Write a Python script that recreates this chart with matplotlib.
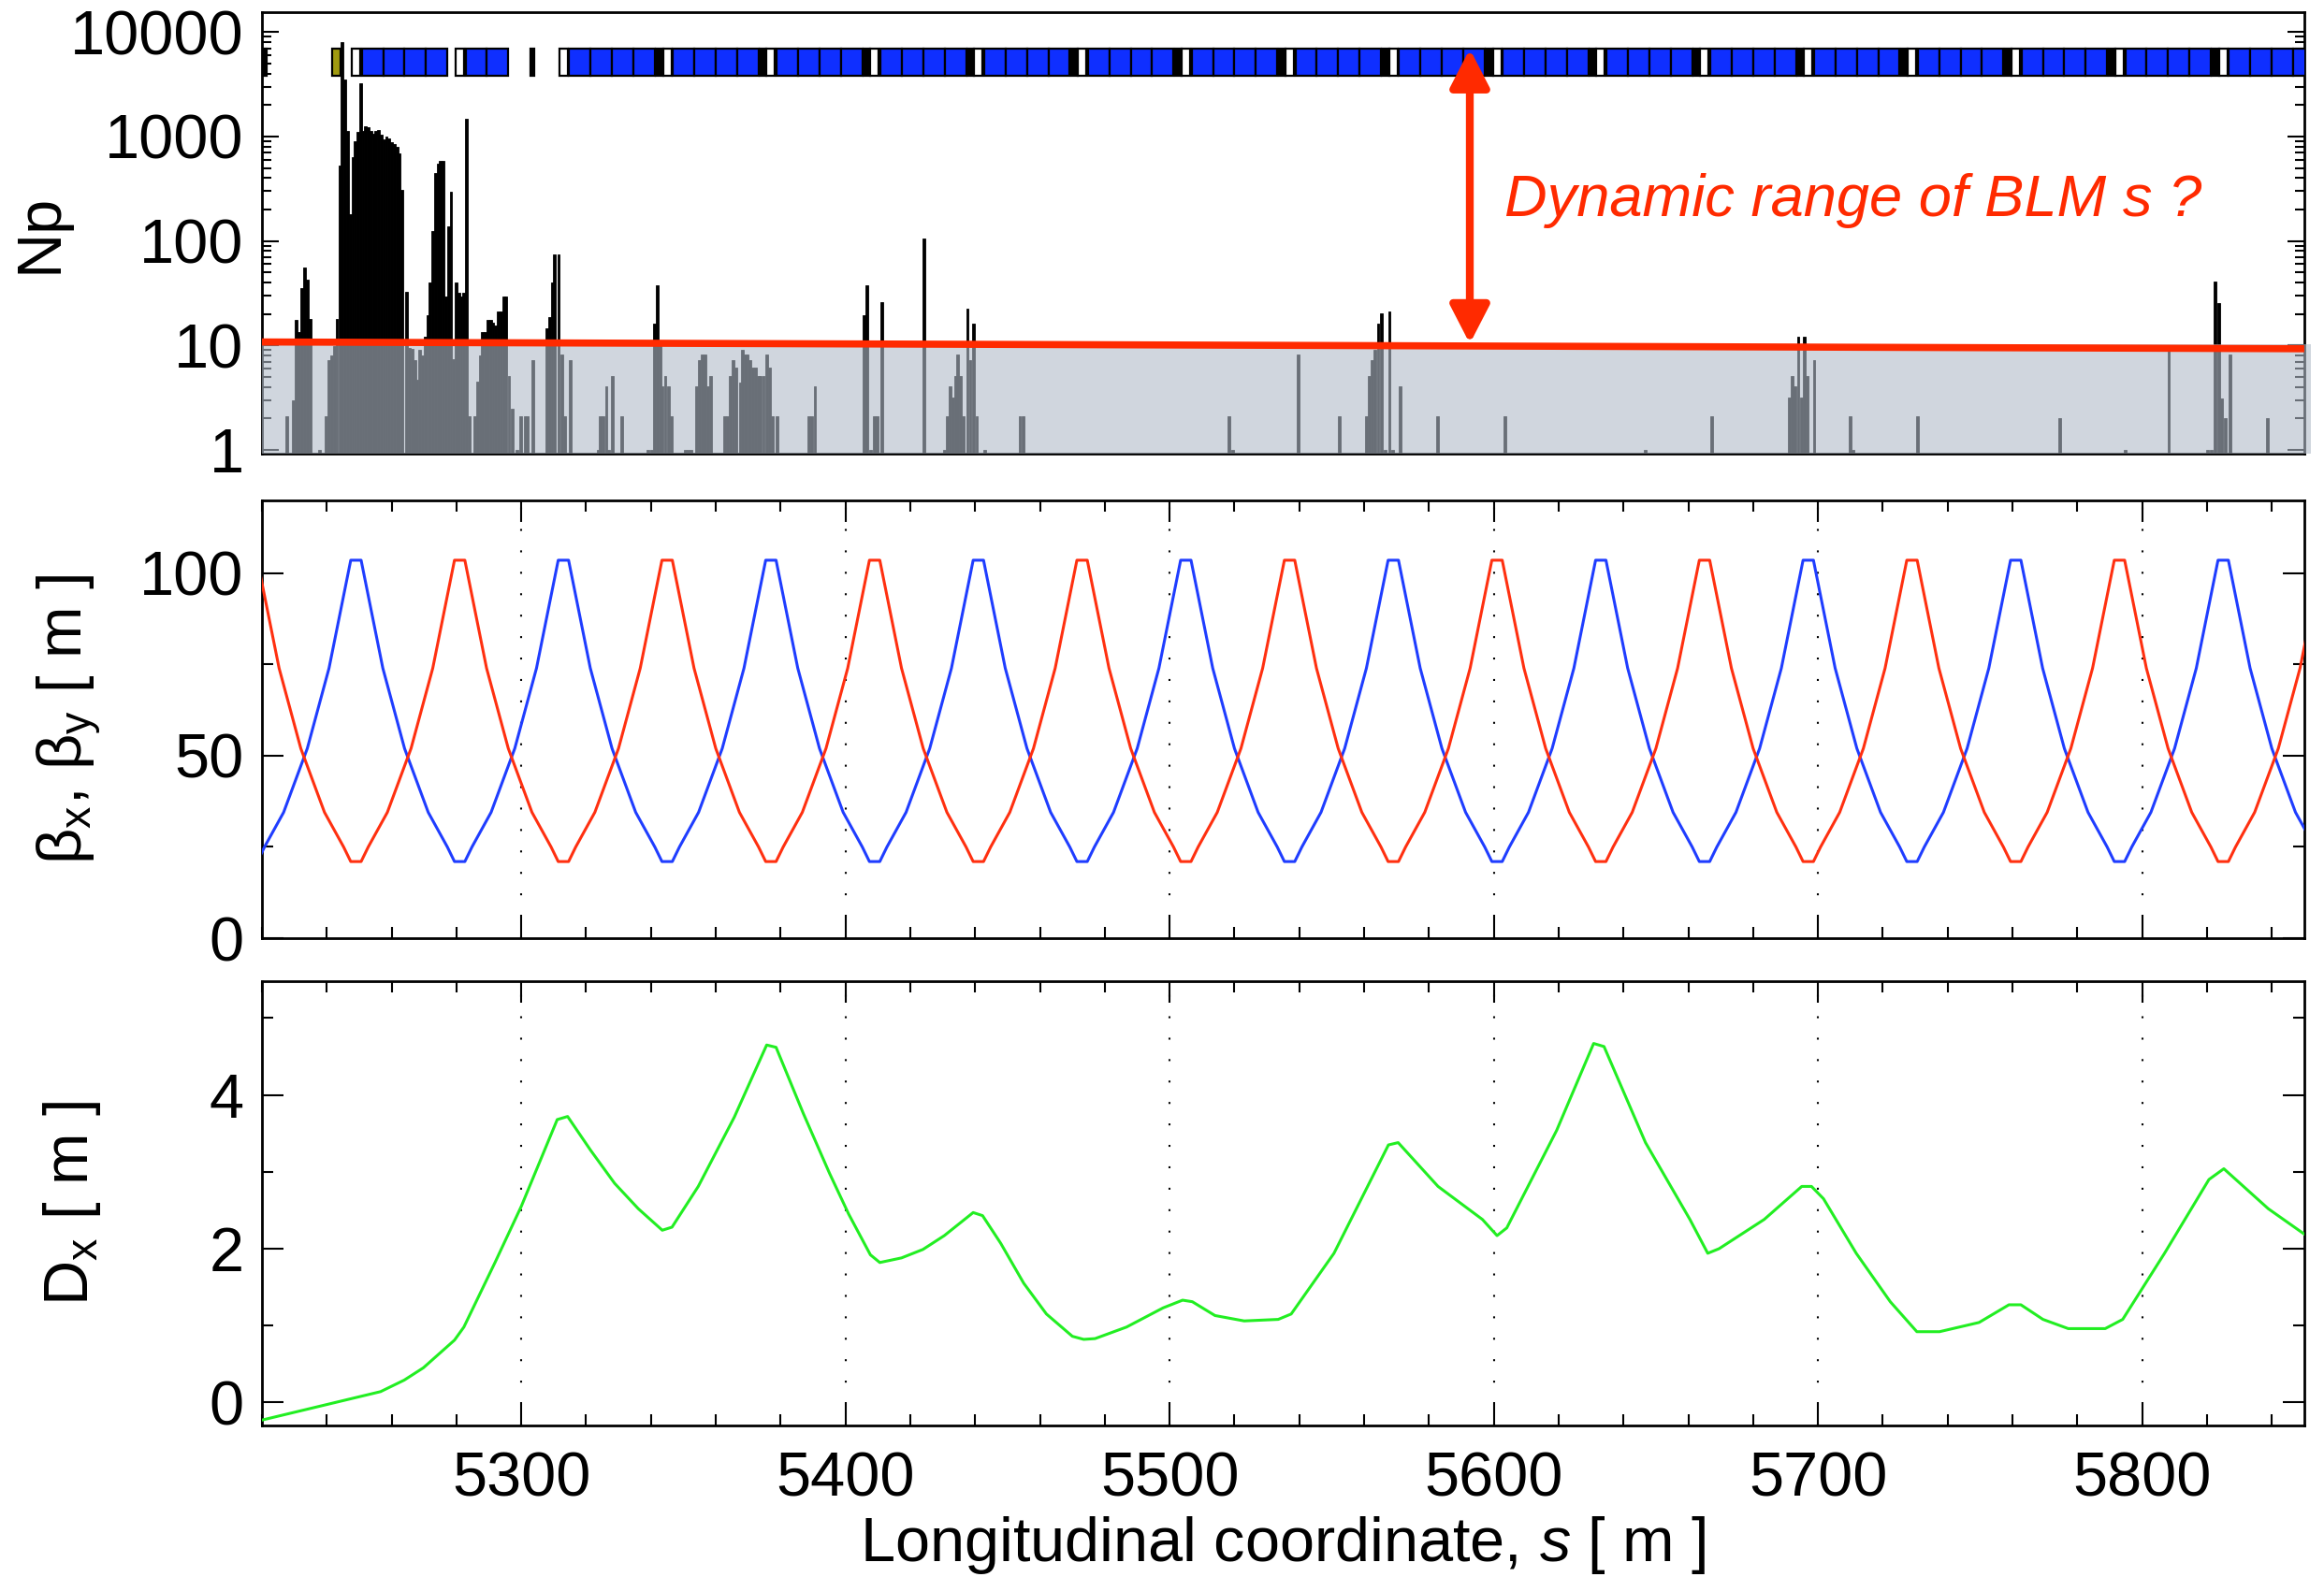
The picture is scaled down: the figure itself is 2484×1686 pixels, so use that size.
import matplotlib
matplotlib.use('Agg')
import matplotlib.pyplot as plt
from matplotlib.patches import Rectangle, ArrowStyle
from matplotlib.ticker import FixedLocator, FixedFormatter, MultipleLocator, LogLocator, NullFormatter

plt.rcParams['font.family'] = ['Liberation Sans', 'DejaVu Sans']
plt.rcParams['mathtext.fontset'] = 'custom'
plt.rcParams['mathtext.rm'] = 'Liberation Sans'
plt.rcParams['mathtext.it'] = 'Liberation Sans:italic'
plt.rcParams['mathtext.default'] = 'regular'

# ---------------- data ----------------
# BLM losses (number of protons per bin), bin centre in s [m]
blm_s = [
    5227.6, 5229.7, 5230.6, 5231.4, 5232.3, 5233.1, 5233.9, 5234.8, 5237.8,
    5239.9, 5240.7, 5241.5, 5242.3, 5243.1, 5244.0, 5244.8, 5245.6, 5246.4, 5247.2,
    5248.0, 5248.8, 5249.6, 5250.4, 5251.2, 5252.0, 5252.8, 5253.6, 5254.4, 5255.2,
    5256.0, 5256.8, 5257.6, 5258.4, 5259.2, 5260.0, 5260.8, 5261.6, 5262.4, 5263.2, 5264.6,
    5265.5, 5266.3, 5267.1, 5267.9, 5268.7, 5269.5, 5270.3, 5271.1, 5271.9, 5272.7,
    5273.5, 5274.3, 5275.1, 5275.9, 5276.7, 5277.5, 5278.3, 5279.1, 5279.9, 5280.7,
    5281.5, 5282.3, 5283.1, 5283.9,
    5285.6, 5286.5, 5287.3, 5288.1, 5288.9, 5289.7, 5290.5, 5291.3, 5292.1, 5292.9,
    5293.7, 5294.5, 5295.3, 5296.2, 5297.1, 5298.6, 5299.8, 5301.1, 5301.9, 5303.5,
    5307.9, 5308.7, 5309.5, 5310.3, 5311.5, 5312.4, 5313.3, 5315.0,
    5323.7, 5324.4, 5325.1, 5326.2, 5326.9, 5328.2, 5330.9,
    5339.1, 5340.3, 5341.1, 5342.0, 5342.8, 5343.5, 5344.4, 5345.3, 5346.2,
    5350.5, 5351.4, 5352.3,
    5354.0, 5354.9, 5355.8, 5356.7, 5357.6, 5358.5,
    5362.7, 5363.5, 5364.4, 5365.3, 5366.2, 5367.5, 5368.2, 5369.0, 5369.8, 5370.6,
    5371.4, 5372.2, 5373.0, 5373.8, 5374.7, 5375.6, 5376.5, 5377.4, 5379.0,
    5388.6, 5389.5, 5390.6,
    5405.8, 5406.7, 5407.7, 5408.8, 5409.7, 5411.2,
    5424.3,
    5430.6, 5431.4, 5432.3, 5433.1, 5433.9, 5434.7, 5435.5, 5436.3, 5437.6, 5438.5,
    5439.4, 5440.5, 5443.0,
    5453.8, 5454.8, 5518.4, 5519.4,
    5539.6, 5552.3, 5560.7, 5561.6, 5562.5, 5563.4, 5564.3, 5565.3, 5566.5, 5567.8,
    5568.7, 5571.0, 5582.6, 5603.5,
    5646.6, 5667.3, 5691.1, 5692.0, 5692.9, 5693.9, 5694.8, 5695.7, 5696.6, 5698.8,
    5710.0, 5710.8, 5730.7,
    5774.5, 5794.7, 5808.2, 5820.2, 5821.2, 5822.5, 5823.7, 5824.5, 5825.7, 5827.1, 5838.6,
]
blm_n = [
    2.1, 3, 17.5, 13.4, 35.6, 56, 42.5, 17.8, 1,
    2.1, 7.3, 8.1, 9.8, 17.8, 530, 8000, 3500, 1130, 182,
    630, 910, 1100, 3230, 1130, 1260, 1220, 1130, 1070, 1130,
    1150, 1050, 940, 1000, 960, 890, 850, 800, 690, 310, 32.5,
    9.5, 9.2, 7.3, 4.7, 9, 8, 12, 19.6, 40, 125,
    450, 550, 580, 580, 29.5, 138, 295, 7.4, 40, 32,
    29.5, 32, 1470, 2.1,
    2.1, 4.5, 8, 13.3, 13.3, 17.5, 17.5, 16.5, 15.6, 21,
    21, 29.5, 29.5, 5.1, 2.5, 1, 2.1, 2.1, 2.1, 7.3,
    14.5, 18.6, 40, 75, 75, 8.2, 2.1, 7.3,
    1, 2.1, 2.1, 4.1, 1, 5.1, 2.1,
    1, 1, 16.3, 37.5, 11, 4.1, 5.1, 4.1, 2.1,
    1, 1, 1,
    4.1, 7.3, 8.2, 8.2, 4.1, 5.1,
    2.1, 2.1, 5.1, 7.3, 6.2, 4.4, 9, 8.2, 8.2, 7.3,
    6.2, 6.2, 5.1, 5.1, 5.1, 8.2, 6.2, 2.1, 2.1,
    2.1, 2.1, 4.1,
    19.3, 37.7, 1, 2.1, 2.1, 25.8,
    106,
    1, 2.1, 4.1, 3.2, 5.1, 8.2, 5.1, 2.1, 22.4, 7.3,
    16.3, 2.1, 1,
    2.1, 2.1, 2.1, 1,
    8.2, 2.1, 2.1, 5.1, 7.3, 9, 16.3, 20.3, 1, 21,
    1, 4.1, 2.1, 2.1,
    1, 2.1, 3.2, 5.1, 4.1, 12, 3.2, 12, 5.1, 7.3,
    2.1, 1, 2.1,
    2.0, 1, 10, 1, 1, 41, 25.7, 3.1, 2.0, 8.2, 2.0,
]

# lattice elements for the top strip
quad_s = [5249, 5281, 5313, 5345, 5377, 5409, 5441, 5473, 5505, 5537,
          5569, 5601, 5633, 5665, 5697, 5729, 5761, 5793, 5825]
n_dipoles = [4, 2, 4, 4, 4, 4, 4, 4, 4, 4, 4, 4, 4, 4, 4, 4, 4, 4, 4]
black_elem_s = [5219.0, 5302.9]
black_elem_w = [2.5, 1.1]
olive_elem_s = 5241.7
olive_elem_w = 2.5

# beta functions (vertices)
bx_s = [5215.4,
        5218.6, 5220.8, 5226.7, 5234.0, 5240.7, 5247.4, 5250.6, 5257.3, 5264.0, 5271.3, 5277.2, 5279.4,
        5282.6, 5284.8, 5290.7, 5298.0, 5304.7, 5311.4, 5314.6, 5321.3, 5328.0, 5335.3, 5341.2, 5343.4,
        5346.6, 5348.8, 5354.7, 5362.0, 5368.7, 5375.4, 5378.6, 5385.3, 5392.0, 5399.3, 5405.2, 5407.4,
        5410.6, 5412.8, 5418.7, 5426.0, 5432.7, 5439.4, 5442.6, 5449.3, 5456.0, 5463.3, 5469.2, 5471.4,
        5474.6, 5476.8, 5482.7, 5490.0, 5496.7, 5503.4, 5506.6, 5513.3, 5520.0, 5527.3, 5533.2, 5535.4,
        5538.6, 5540.8, 5546.7, 5554.0, 5560.7, 5567.4, 5570.6, 5577.3, 5584.0, 5591.3, 5597.2, 5599.4,
        5602.6, 5604.8, 5610.7, 5618.0, 5624.7, 5631.4, 5634.6, 5641.3, 5648.0, 5655.3, 5661.2, 5663.4,
        5666.6, 5668.8, 5674.7, 5682.0, 5688.7, 5695.4, 5698.6, 5705.3, 5712.0, 5719.3, 5725.2, 5727.4,
        5730.6, 5732.8, 5738.7, 5746.0, 5752.7, 5759.4, 5762.6, 5769.3, 5776.0, 5783.3, 5789.2, 5791.4,
        5794.6, 5796.8, 5802.7, 5810.0, 5816.7, 5823.4, 5826.6, 5833.3, 5840.0, 5847.3, 5853.2, 5855.4]
bx = [21,
      21, 25, 34.5, 52, 74, 103.6, 103.6, 74, 52, 34.5, 25, 21,
      21, 25, 34.5, 52, 74, 103.6, 103.6, 74, 52, 34.5, 25, 21,
      21, 25, 34.5, 52, 74, 103.6, 103.6, 74, 52, 34.5, 25, 21,
      21, 25, 34.5, 52, 74, 103.6, 103.6, 74, 52, 34.5, 25, 21,
      21, 25, 34.5, 52, 74, 103.6, 103.6, 74, 52, 34.5, 25, 21,
      21, 25, 34.5, 52, 74, 103.6, 103.6, 74, 52, 34.5, 25, 21,
      21, 25, 34.5, 52, 74, 103.6, 103.6, 74, 52, 34.5, 25, 21,
      21, 25, 34.5, 52, 74, 103.6, 103.6, 74, 52, 34.5, 25, 21,
      21, 25, 34.5, 52, 74, 103.6, 103.6, 74, 52, 34.5, 25, 21,
      21, 25, 34.5, 52, 74, 103.6, 103.6, 74, 52, 34.5, 25, 21]
by_s = [5215.4, 5218.6, 5225.3, 5232.0, 5239.3, 5245.2, 5247.4,
        5250.6, 5252.8, 5258.7, 5266.0, 5272.7, 5279.4, 5282.6, 5289.3, 5296.0, 5303.3, 5309.2, 5311.4,
        5314.6, 5316.8, 5322.7, 5330.0, 5336.7, 5343.4, 5346.6, 5353.3, 5360.0, 5367.3, 5373.2, 5375.4,
        5378.6, 5380.8, 5386.7, 5394.0, 5400.7, 5407.4, 5410.6, 5417.3, 5424.0, 5431.3, 5437.2, 5439.4,
        5442.6, 5444.8, 5450.7, 5458.0, 5464.7, 5471.4, 5474.6, 5481.3, 5488.0, 5495.3, 5501.2, 5503.4,
        5506.6, 5508.8, 5514.7, 5522.0, 5528.7, 5535.4, 5538.6, 5545.3, 5552.0, 5559.3, 5565.2, 5567.4,
        5570.6, 5572.8, 5578.7, 5586.0, 5592.7, 5599.4, 5602.6, 5609.3, 5616.0, 5623.3, 5629.2, 5631.4,
        5634.6, 5636.8, 5642.7, 5650.0, 5656.7, 5663.4, 5666.6, 5673.3, 5680.0, 5687.3, 5693.2, 5695.4,
        5698.6, 5700.8, 5706.7, 5714.0, 5720.7, 5727.4, 5730.6, 5737.3, 5744.0, 5751.3, 5757.2, 5759.4,
        5762.6, 5764.8, 5770.7, 5778.0, 5784.7, 5791.4, 5794.6, 5801.3, 5808.0, 5815.3, 5821.2, 5823.4,
        5826.6, 5828.8, 5834.7, 5842.0, 5848.7, 5855.4]
by = [103.6, 103.6, 74, 52, 34.5, 25, 21,
      21, 25, 34.5, 52, 74, 103.6, 103.6, 74, 52, 34.5, 25, 21,
      21, 25, 34.5, 52, 74, 103.6, 103.6, 74, 52, 34.5, 25, 21,
      21, 25, 34.5, 52, 74, 103.6, 103.6, 74, 52, 34.5, 25, 21,
      21, 25, 34.5, 52, 74, 103.6, 103.6, 74, 52, 34.5, 25, 21,
      21, 25, 34.5, 52, 74, 103.6, 103.6, 74, 52, 34.5, 25, 21,
      21, 25, 34.5, 52, 74, 103.6, 103.6, 74, 52, 34.5, 25, 21,
      21, 25, 34.5, 52, 74, 103.6, 103.6, 74, 52, 34.5, 25, 21,
      21, 25, 34.5, 52, 74, 103.6, 103.6, 74, 52, 34.5, 25, 21,
      21, 25, 34.5, 52, 74, 103.6, 103.6, 74, 52, 34.5, 25, 21,
      21, 25, 34.5, 52, 74, 103.6]

# horizontal dispersion
dx_s = [5220.0, 5256.6, 5263.9, 5269.8, 5279.4, 5282.3, 5291.9, 5300.0, 5311.1, 5314.3,
        5321.4, 5328.8, 5336.1, 5343.5, 5346.5, 5354.6, 5365.7, 5375.7, 5378.6, 5387.0,
        5395.1, 5401.0, 5407.7, 5410.6, 5417.3, 5423.9, 5430.5, 5439.4, 5442.3, 5447.9,
        5455.0, 5462.0, 5470.0, 5473.5, 5477.0, 5486.7, 5498.0, 5504.0, 5507.0, 5514.0,
        5523.0, 5533.5, 5537.5, 5550.7, 5567.5, 5570.5, 5582.8, 5596.5, 5601.0, 5604.0,
        5619.4, 5630.8, 5634.0, 5646.8, 5660.5, 5666.0, 5669.5, 5683.4, 5695.0, 5698.0,
        5701.7, 5711.8, 5722.3, 5730.5, 5737.5, 5749.7, 5758.9, 5762.6, 5769.4, 5777.2,
        5788.6, 5794.0, 5806.9, 5820.6, 5825.2, 5838.9, 5850.0]
dx = [-0.23, 0.14, 0.29, 0.45, 0.81, 0.98, 1.82, 2.55, 3.68, 3.72,
      3.28, 2.85, 2.52, 2.24, 2.28, 2.81, 3.71, 4.65, 4.62, 3.76,
      2.98, 2.45, 1.92, 1.82, 1.88, 1.99, 2.17, 2.47, 2.43, 2.07,
      1.55, 1.15, 0.86, 0.82, 0.83, 0.98, 1.23, 1.33, 1.31, 1.13,
      1.06, 1.08, 1.15, 1.94, 3.35, 3.38, 2.81, 2.38, 2.17, 2.27,
      3.54, 4.67, 4.63, 3.38, 2.38, 1.94, 2.0, 2.38, 2.81, 2.81,
      2.65, 1.94, 1.31, 0.92, 0.92, 1.04, 1.27, 1.27, 1.08, 0.96,
      0.96, 1.08, 1.94, 2.9, 3.04, 2.52, 2.19]

threshold_s = [5220, 5850]
threshold_n = [10.8, 9.3]
grid_s = [5300, 5400, 5500, 5600, 5700, 5800]

RED = '#ff2a00'
XMIN, XMAX = 5220, 5850

fig = plt.figure(figsize=(24.84, 16.86), dpi=100)
ax1 = fig.add_axes([0.1127, 0.7123, 0.8788, 0.2800])
ax2 = fig.add_axes([0.1127, 0.4051, 0.8788, 0.2776])
ax3 = fig.add_axes([0.1127, 0.0961, 0.8788, 0.2817])

for ax in (ax1, ax2, ax3):
    ax.set_xlim(XMIN, XMAX)
    for sp in ax.spines.values():
        sp.set_linewidth(2)

# ---------------- top panel: losses ----------------
ax1.set_yscale('log')
ax1.set_ylim(0.92, 15500)
ax1.bar(blm_s, blm_n, width=0.82, color='black', edgecolor='black', linewidth=0.6, zorder=2)
ax1.add_patch(Rectangle((XMIN, 0.92), XMAX - XMIN + 2, 10.3 - 0.92,
                        facecolor=(177/255, 187/255, 200/255), alpha=0.6,
                        edgecolor='none', zorder=3, clip_on=False))
ax1.plot(threshold_s, threshold_n, color=RED, lw=5.5, solid_capstyle='butt', zorder=5)

# lattice strip
y0, y1 = 3840, 6890
def elem(x, w, fc):
    ax1.add_patch(Rectangle((x, y0), w, y1 - y0, facecolor=fc, edgecolor='black',
                            linewidth=1.6, zorder=4))

for k, (q, nd) in enumerate(zip(quad_s, n_dipoles)):
    if k >= 3:
        elem(q - 3.4, 2.1, 'black')
    elem(q - 1.3, 2.6, 'white')
    for j in range(nd):
        elem(q + 1.8 + 6.6 * j, 6.6, '#0f2fff')
for x, w in zip(black_elem_s, black_elem_w):
    elem(x, w, 'black')
elem(olive_elem_s, olive_elem_w, '#a09a10')

ax1.annotate('', xy=(5592.6, 10.4), xytext=(5592.6, 6890),
             arrowprops=dict(arrowstyle=ArrowStyle('<|-|>', head_length=0.33, head_width=0.17),
                             mutation_scale=75, color=RED, lw=6, shrinkA=0, shrinkB=0),
             zorder=6)
ax1.text(5603.4, 245, 'Dynamic range of BLM s ?', color=RED, fontsize=45.5,
         style='italic', ha='left', va='center', zorder=6)

ax1.yaxis.set_major_locator(FixedLocator([1, 10, 100, 1000, 10000]))
ax1.yaxis.set_major_formatter(FixedFormatter(['1', '10', '100', '1000', '10000']))
ax1.yaxis.set_minor_locator(LogLocator(base=10, subs=range(2, 10), numticks=20))
ax1.yaxis.set_minor_formatter(NullFormatter())
ax1.tick_params(axis='y', which='both', direction='in', left=True, right=True,
                width=1.5, labelsize=48, pad=14)
ax1.tick_params(axis='y', which='major', length=13)
ax1.tick_params(axis='y', which='minor', length=7)
ax1.tick_params(axis='x', which='both', bottom=False, top=False, labelbottom=False)
ax1.set_ylabel('Np', fontsize=48)
ax1.yaxis.set_label_coords(-0.094, 0.5)

# ---------------- middle panel: beta functions ----------------
ax2.plot(bx_s, bx, color='#1f3dff', lw=2.2, zorder=3)
ax2.plot(by_s, by, color='#ff3010', lw=2.2, zorder=3)
ax2.set_ylim(0, 120)
ax2.yaxis.set_major_locator(FixedLocator([0, 50, 100]))
ax2.yaxis.set_minor_locator(FixedLocator([25, 75]))
ax2.set_ylabel(r'β$_x$, β$_y$ [ m ]', fontsize=48)
ax2.yaxis.set_label_coords(-0.078, 0.5)

# ---------------- bottom panel: dispersion ----------------
ax3.plot(dx_s, dx, color='#22ee22', lw=2.2, zorder=3)
ax3.set_ylim(-0.30, 5.48)
ax3.yaxis.set_major_locator(FixedLocator([0, 2, 4]))
ax3.yaxis.set_minor_locator(FixedLocator([1, 3, 5]))
ax3.set_ylabel(r'D$_x$ [ m ]', fontsize=48)
ax3.yaxis.set_label_coords(-0.078, 0.5)
ax3.set_xlabel(r'Longitudinal coordinate, $\mathit{s}$ [ m ]', fontsize=48)
ax3.xaxis.set_label_coords(0.5, -0.2)

for ax in (ax2, ax3):
    for g in grid_s:
        ax.axvline(g, color='black', lw=1.5, linestyle=(0, (1, 10)), zorder=1)
    ax.xaxis.set_major_locator(MultipleLocator(100))
    ax.xaxis.set_minor_locator(MultipleLocator(20))
    ax.tick_params(which='both', direction='in', top=True, right=True, width=1.5,
                   labelsize=48)
    ax.tick_params(which='major', length=16.5)
    ax.tick_params(which='minor', length=8.6)
    ax.tick_params(axis='y', pad=14)
    ax.tick_params(axis='x', pad=20)
ax2.tick_params(axis='x', labelbottom=False)

fig.savefig('out.png', dpi=100)
